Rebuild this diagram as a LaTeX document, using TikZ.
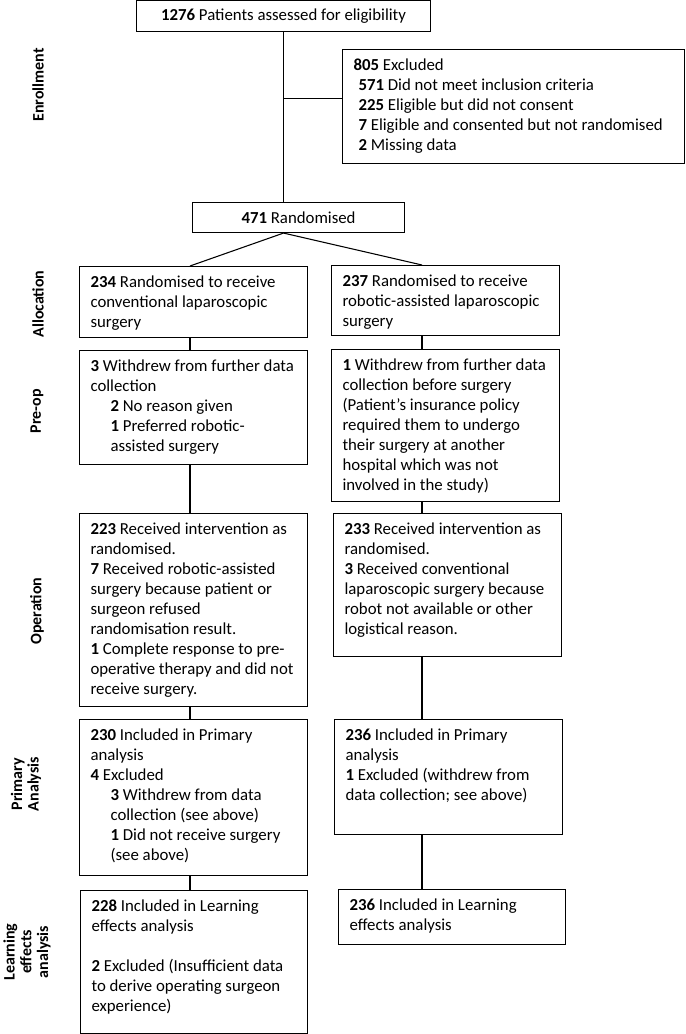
\documentclass[tikz,border=0pt]{standalone}
\usepackage{fontspec}
\setmainfont{Carlito}
\newlength{\px}
\setlength{\px}{0.75pt}
% box text: width, height (px), text top left
\newcommand{\boxtext}[3]{\parbox[c][#2\px][t]{\dimexpr#1\px-22\px\relax}{\raggedright\rule{0pt}{21\px}#3}}
\newcommand{\cnt}[1]{\textbf{#1}}
\begin{document}
\begin{tikzpicture}[x=0.75pt, y=-0.75pt, line width=0.8pt,
    font=\fontsize{12.6}{15}\selectfont,
    flowbox/.style={draw, anchor=north west, inner xsep=11\px, inner ysep=0pt},
    titlebox/.style={draw, anchor=north west, inner sep=0pt},
    stage/.style={rotate=90, align=center, font=\bfseries\fontsize{12}{12.5}\selectfont}]
    \useasboundingbox (0,0) rectangle (685,1034);

    % stage labels
    \node [stage] (enrol) at (38,85) {Enrollment};
    \node [stage] (alloc) at (38,304) {Allocation};
    \node [stage] (preop) at (37,411) {Pre-op};
    \node [stage] (oper) at (37,611) {Operation};
    \node [stage] (prim) at (26,784) {Primary\\Analysis};
    \node [stage] (learn) at (27,952) {Learning\\effects\\analysis};

    % enrollment
    \node [titlebox, minimum width=294\px, minimum height=31\px] (assessed) at (136,0) {\cnt{1276} Patients assessed for eligibility};
    \node [flowbox] (excl) at (342,49) {\boxtext{342}{114}{\cnt{805} Excluded\\
        \leftskip=5\px \cnt{571} Did not meet inclusion criteria\\
        \cnt{225} Eligible but did not consent\\
        \cnt{7} Eligible and consented but not randomised\\
        \cnt{2} Missing data}};
    \node [titlebox, minimum width=212\px, minimum height=30\px] (rand) at (192,202) {\cnt{471} Randomised};

    % allocation
    \node [flowbox] (lalloc) at (79,266) {\boxtext{228}{71}{\cnt{234} Randomised to receive\\ conventional laparoscopic\\ surgery}};
    \node [flowbox] (ralloc) at (331,265) {\boxtext{228}{70}{\cnt{237} Randomised to receive\\ robotic-assisted laparoscopic\\ surgery}};

    % pre-op
    \node [flowbox] (lpre) at (79,350) {\boxtext{228}{114}{\cnt{3} Withdrew from further data\\ collection\\
        \leftskip=20\px \cnt{2} No reason given\\
        \cnt{1} Preferred robotic-\\ assisted surgery}};
    \node [flowbox] (rpre) at (331,349) {\boxtext{228}{152}{\cnt{1} Withdrew from further data\\ collection before surgery\\ (Patient’s insurance policy\\ required them to undergo\\ their surgery at another\\ hospital which was not\\ involved in the study)}};

    % operation
    \node [flowbox] (lop) at (79,513) {\boxtext{228}{193}{\cnt{223} Received intervention as\\ randomised.\\
        \cnt{7} Received robotic-assisted\\ surgery because patient or\\ surgeon refused\\ randomisation result.\\
        \cnt{1} Complete response to pre-\\ operative therapy and did not\\ receive surgery.}};
    \node [flowbox] (rop) at (333,513) {\boxtext{228}{143}{\cnt{233} Received intervention as\\ randomised.\\
        \cnt{3} Received conventional\\ laparoscopic surgery because\\ robot not available or other\\ logistical reason.}};

    % primary analysis
    \node [flowbox] (lprim) at (79,719) {\boxtext{228}{156}{\cnt{230} Included in Primary\\ analysis\\
        \cnt{4} Excluded\\
        \leftskip=20\px \cnt{3} Withdrew from data\\ collection (see above)\\
        \cnt{1} Did not receive surgery\\ (see above)}};
    \node [flowbox] (rprim) at (334,719) {\boxtext{228}{115}{\cnt{236} Included in Primary\\ analysis\\
        \cnt{1} Excluded (withdrew from\\ data collection; see above)}};

    % learning effects
    \node [flowbox] (llearn) at (80,890) {\boxtext{227}{143}{\cnt{228} Included in Learning\\ effects analysis\\[20\px]
        \cnt{2} Excluded (Insufficient data\\ to derive operating surgeon\\ experience)}};
    \node [flowbox] (rlearn) at (338,889) {\boxtext{227}{55}{\cnt{236} Included in Learning\\ effects analysis}};

    % connectors
    \coordinate (lcol) at (190,0);
    \coordinate (rcol) at (422,0);
    \coordinate (exclin) at ([yshift=6pt]excl.west);
    \coordinate (split) at (assessed.south |- rand.south);
    \draw (assessed.south) -- (assessed.south |- rand.north);
    \draw (assessed.south |- exclin) -- (exclin);
    \draw (lalloc.north -| lcol) -- (split) -- (ralloc.north -| rcol);
    \draw (lalloc.south -| lcol) -- (lpre.north -| lcol);
    \draw (lpre.south -| lcol) -- (lop.north -| lcol);
    \draw (lop.south -| lcol) -- (lprim.north -| lcol);
    \draw (lprim.south -| lcol) -- (llearn.north -| lcol);
    \draw (ralloc.south -| rcol) -- (rpre.north -| rcol);
    \draw (rpre.south -| rcol) -- (rop.north -| rcol);
    \draw (rop.south -| rcol) -- (rprim.north -| rcol);
    \draw (rprim.south -| rcol) -- (rlearn.north -| rcol);
\end{tikzpicture}
\end{document}
